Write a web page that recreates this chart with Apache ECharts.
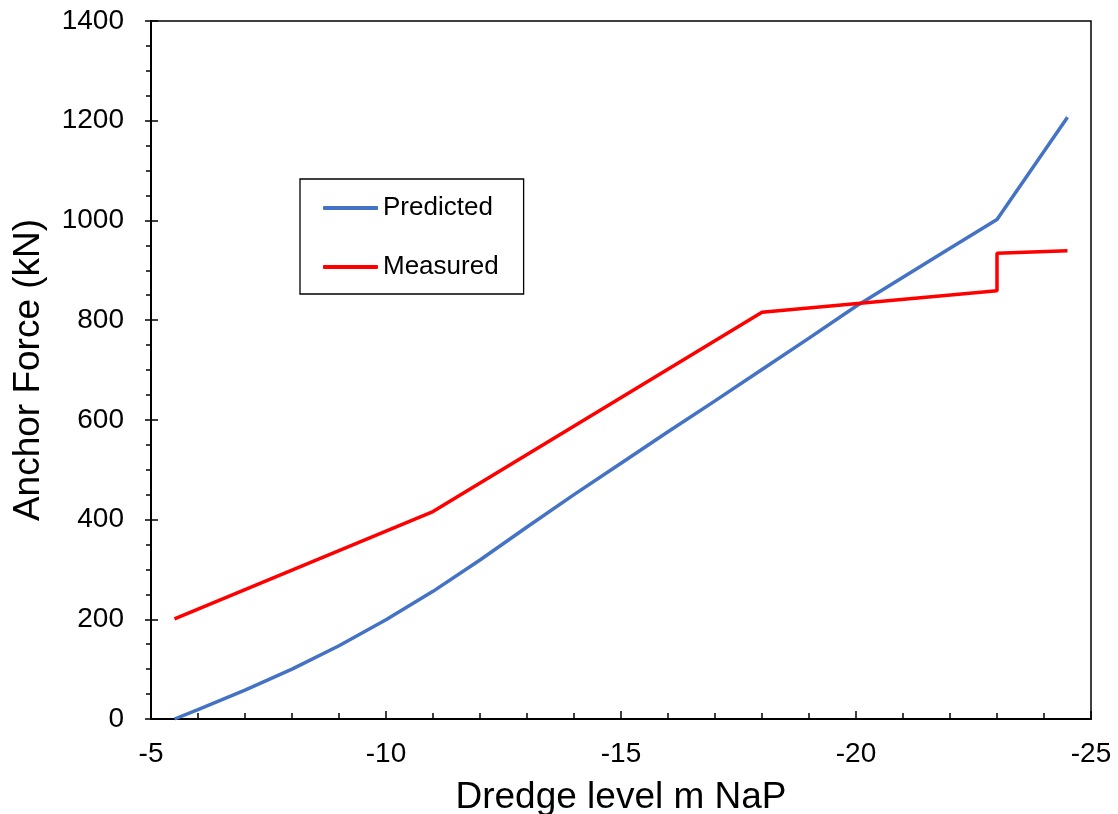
<!DOCTYPE html>
<html>
<head>
<meta charset="utf-8">
<script src="https://cdn.jsdelivr.net/npm/echarts@6/dist/echarts.min.js"></script>
<style>
html,body{margin:0;padding:0;background:#fff;}
#chart{width:1118px;height:814px;}
</style>
</head>
<body>
<div id="chart"></div>
<script>
// Data
const predictedX = [-5.5, -6, -7, -8, -9, -10, -11, -12, -13, -14, -15, -16, -17, -18, -19, -20, -21, -22, -23, -24.5];
const predictedY = [0, 19, 58, 100, 147, 199, 256, 319, 385, 450, 513, 576, 638, 701, 764, 828, 886, 944, 1002, 1207];
const measuredX = [-5.5, -11, -18, -23, -23, -24.5];
const measuredY = [201, 416, 816, 859, 934, 939];
const xTicks = [-5, -10, -15, -20, -25];
const yTicks = [0, 200, 400, 600, 800, 1000, 1200, 1400];
const seriesNames = ['Predicted', 'Measured'];

const zip = (xs, ys) => xs.map((x, i) => [x, ys[i]]);
const FONT = 'Liberation Sans, Arial, sans-serif';

const chart = echarts.init(document.getElementById('chart'), null, {renderer: 'canvas'});
chart.setOption({
  animation: false,
  backgroundColor: '#ffffff',
  textStyle: {fontFamily: FONT, color: '#000'},
  grid: {
    left: 151, right: 27, top: 21, bottom: 95,
    containLabel: false,
    outerBoundsMode: 'none',
    show: true, borderColor: '#000', borderWidth: 1.5, backgroundColor: 'transparent'
  },
  legend: {
    orient: 'vertical',
    left: 300, top: 179,
    padding: [16, 25, 14, 23],
    itemGap: 33,
    itemWidth: 55,
    itemHeight: 4,
    itemTextGap: 4,
    icon: 'roundRect',
    borderColor: '#000',
    borderWidth: 1.3,
    data: seriesNames,
    textStyle: {fontFamily: FONT, fontSize: 26, color: '#000'}
  },
  xAxis: {
    type: 'value',
    inverse: true,
    min: xTicks[xTicks.length - 1],
    max: xTicks[0],
    interval: 5,
    name: 'Dredge level m NaP',
    nameLocation: 'middle',
    nameGap: 60,
    nameTextStyle: {fontFamily: FONT, fontSize: 37, color: '#000'},
    axisLine: {show: true, onZero: false, lineStyle: {color: '#000', width: 2}},
    axisTick: {show: true, inside: true, length: 8, lineStyle: {color: '#000', width: 1.5}},
    minorTick: {show: true, splitNumber: 5, length: 6, lineStyle: {color: '#000', width: 1.5}},
    axisLabel: {fontFamily: FONT, fontSize: 28, color: '#000', margin: 21, formatter: v => String(v)},
    splitLine: {show: false}
  },
  yAxis: [{
    type: 'value',
    position: 'left',
    min: yTicks[0],
    max: yTicks[yTicks.length - 1],
    interval: 200,
    name: 'Anchor Force (kN)',
    nameLocation: 'middle',
    nameGap: 104,
    nameTextStyle: {fontFamily: FONT, fontSize: 37, color: '#000'},
    axisLine: {show: true, onZero: false, lineStyle: {color: '#000', width: 2}},
    axisTick: {show: true, inside: false, length: 6, lineStyle: {color: '#000', width: 1.5}},
    minorTick: {show: true, splitNumber: 4, length: 5, lineStyle: {color: '#000', width: 1.5}},
    axisLabel: {fontFamily: FONT, fontSize: 28, color: '#000', margin: 27, formatter: v => String(v)},
    splitLine: {show: false}
  }, {
    type: 'value',
    position: 'left',
    offset: 0,
    min: yTicks[0],
    max: yTicks[yTicks.length - 1],
    interval: 200,
    axisLine: {show: false},
    axisTick: {show: true, inside: true, length: 7, lineStyle: {color: '#000', width: 1.5}},
    axisLabel: {show: false},
    splitLine: {show: false}
  }],
  series: [{
    name: seriesNames[0],
    type: 'line',
    yAxisIndex: 0,
    data: zip(predictedX, predictedY),
    showSymbol: false,
    symbol: 'none',
    lineStyle: {color: '#4472C4', width: 3.5},
    itemStyle: {color: '#4472C4'},
    z: 3
  }, {
    name: seriesNames[1],
    type: 'line',
    yAxisIndex: 0,
    data: zip(measuredX, measuredY),
    showSymbol: false,
    symbol: 'none',
    lineStyle: {color: '#FF0000', width: 3.5},
    itemStyle: {color: '#FF0000'},
    z: 4
  }]
});
</script>
</body>
</html>
